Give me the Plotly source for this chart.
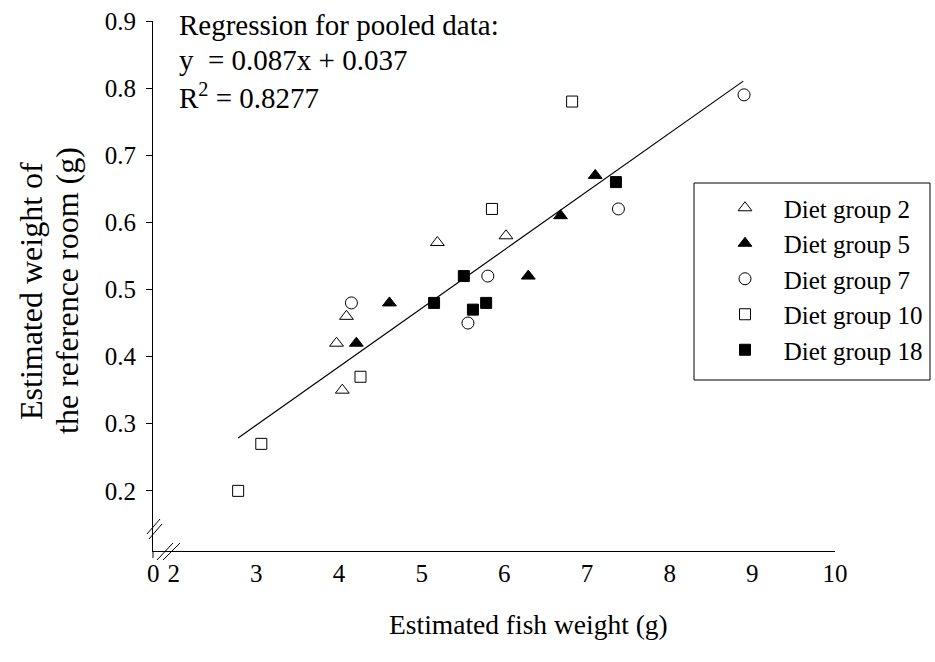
import plotly.graph_objects as go

# ---- data ----
g2_x = [5.19, 6.02, 4.09, 3.97, 4.04]
g2_y = [0.57, 0.58, 0.46, 0.42, 0.35]
g5_x = [6.29, 4.61, 4.21, 7.10, 6.68]
g5_y = [0.52, 0.48, 0.42, 0.67, 0.61]
g7_x = [5.80, 5.56, 4.15, 8.90, 7.38]
g7_y = [0.52, 0.45, 0.48, 0.79, 0.62]
g10_x = [5.85, 4.26, 3.06, 2.78, 6.82]
g10_y = [0.62, 0.37, 0.27, 0.20, 0.78]
g18_x = [5.51, 5.15, 5.78, 5.62, 7.35]
g18_y = [0.52, 0.48, 0.48, 0.47, 0.66]

slope = 0.087
intercept = 0.037
fit_x = [2.78, 8.89]

x_tickvals = [1.752, 2, 3, 4, 5, 6, 7, 8, 9, 10]
x_ticktext = ["0", "2", "3", "4", "5", "6", "7", "8", "9", "10"]
y_tickvals = [0.2, 0.3, 0.4, 0.5, 0.6, 0.7, 0.8, 0.9]
y_ticktext = ["0.2", "0.3", "0.4", "0.5", "0.6", "0.7", "0.8", "0.9"]

FONT = "Liberation Serif, Times New Roman, serif"
NB = "\u00a0"

fig = go.Figure()

fit_y = [slope * v + intercept for v in fit_x]
fig.add_trace(go.Scatter(x=fit_x, y=fit_y, mode="lines",
                         line=dict(color="black", width=1.2), showlegend=False,
                         hoverinfo="skip"))

series = [
    ("Diet group 2", g2_x, g2_y, "triangle-up-open", 12),
    ("Diet group 5", g5_x, g5_y, "triangle-up", 12),
    ("Diet group 7", g7_x, g7_y, "circle-open", 12),
    ("Diet group 10", g10_x, g10_y, "square-open", 11),
    ("Diet group 18", g18_x, g18_y, "square", 11),
]
for name, xs, ys, sym, sz in series:
    fig.add_trace(go.Scatter(
        x=xs, y=ys, mode="markers", name=NB * 3 + name,
        marker=dict(symbol=sym, size=sz, color="black",
                    line=dict(color="black", width=1))))

# layout geometry (pixels)
L, R, T, B = 153, 100, 21, 111
W, H = 935, 662
pw, ph = W - L - R, H - T - B

def px(x):
    return (x - L) / pw

def py(y):
    return (H - B - y) / ph

shapes = []
# y-axis break marks
for (x0, y0, x1, y1) in [(147, 534, 160, 519), (149, 539, 162, 524)]:
    shapes.append(dict(type="line", xref="paper", yref="paper",
                       x0=px(x0), y0=py(y0), x1=px(x1), y1=py(y1),
                       line=dict(color="black", width=1)))
# x-axis break marks
for (x0, y0, x1, y1) in [(157, 560, 173, 543), (163, 560, 180, 543)]:
    shapes.append(dict(type="line", xref="paper", yref="paper",
                       x0=px(x0), y0=py(y0), x1=px(x1), y1=py(y1),
                       line=dict(color="black", width=1)))
# y axis line extension below x axis
shapes.append(dict(type="line", xref="paper", yref="paper",
                   x0=0, y0=0, x1=0, y1=py(558),
                   line=dict(color="black", width=1)))
# legend box
shapes.append(dict(type="rect", xref="paper", yref="paper",
                   x0=px(694), y0=py(380), x1=px(930), y1=py(183),
                   line=dict(color="black", width=1), fillcolor="rgba(0,0,0,0)"))

annotations = [
    dict(text="Regression for pooled data:", x=px(177), y=py(25)),
    dict(text="y" + NB + NB + "= 0.087x + 0.037", x=px(177), y=py(60)),
    dict(text="R<sup>2</sup> = 0.8277", x=px(177), y=py(96)),
]
for a in annotations:
    a.update(xref="paper", yref="paper", xanchor="left", yanchor="middle",
             showarrow=False, font=dict(family=FONT, size=29, color="black"))

annotations.append(dict(text="Estimated fish weight (g)", xref="paper", yref="paper",
                        x=px(528), y=py(624), xanchor="center", yanchor="middle",
                        showarrow=False, font=dict(family=FONT, size=27.5, color="black")))
for txt, cx in [("Estimated weight of", 31), ("the reference room (g)", 67)]:
    annotations.append(dict(text=txt, xref="paper", yref="paper", textangle=-90,
                            x=px(cx), y=py(291), xanchor="center", yanchor="middle",
                            showarrow=False,
                            font=dict(family=FONT, size=32, color="black")))

fig.update_layout(
    width=W, height=H,
    margin=dict(l=L, r=R, t=T, b=B, pad=0, autoexpand=False),
    paper_bgcolor="white", plot_bgcolor="white",
    font=dict(family=FONT, size=25, color="black"),
    shapes=shapes, annotations=annotations,
    legend=dict(x=px(697), y=py(185), xanchor="left", yanchor="top",
                borderwidth=0, bgcolor="rgba(0,0,0,0)",
                font=dict(family=FONT, size=25, color="black"),
                indentation=28, tracegroupgap=0),
    xaxis=dict(range=[1.75, 10.0], tickvals=x_tickvals, ticktext=x_ticktext,
               showline=True, linecolor="black", linewidth=1, ticks="",
               showgrid=False, zeroline=False, tickfont=dict(size=25),
               ticklabelstandoff=0),
    yaxis=dict(range=[0.1104, 0.9], tickvals=y_tickvals, ticktext=y_ticktext,
               showline=True, linecolor="black", linewidth=1, ticks="outside",
               ticklen=6, tickcolor="black", showgrid=False, zeroline=False,
               tickfont=dict(size=25), ticklabelstandoff=5),
    showlegend=True,
)

fig.write_html("out.html")
